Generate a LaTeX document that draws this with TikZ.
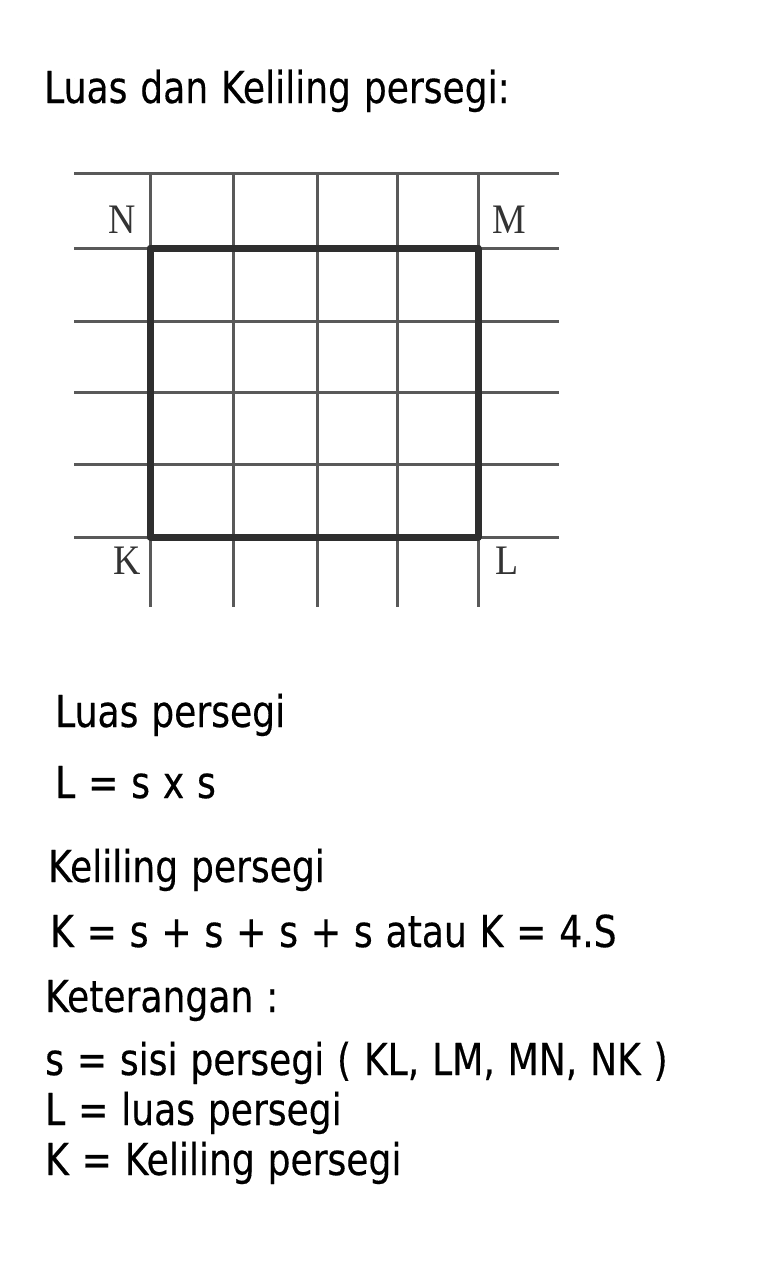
\documentclass[tikz,border=0pt]{standalone}
\usepackage{fontspec}
\setmainfont{DejaVu Sans}[FakeStretch=0.82, WordSpace=1.12, FakeBold=0.3]
\newfontfamily\titikfont{Liberation Serif}[FakeStretch=0.9]
\usetikzlibrary{positioning}

\begin{document}
\begin{tikzpicture}[
        x=1pt, y=-1pt,
        garis/.style={line width=3pt, black!65},
        sisi/.style={line width=7pt, black!82, line cap=round, line join=round},
        titik/.style={font=\titikfont\fontsize{42}{42}\selectfont, text=black!80, inner sep=0pt},
        teks/.style={font=\fontsize{44}{44}\selectfont, anchor=base west, inner sep=0pt}
    ]

    \useasboundingbox (0,0) rectangle (768,1280);
    \fill[white] (0,0) rectangle (768,1280);

    \node[teks] (judul) at (44,103) {Luas dan Keliling persegi:};

    % kotak-kotak
    \foreach \y in {173,248,321,392,464,537}
        \draw[garis] (74,\y) -- (559,\y);
    \foreach \x in {150,233,317,397,478}
        \draw[garis] (\x,173) -- (\x,607);

    \coordinate (K) at (150,537);
    \coordinate (L) at (478,537);
    \coordinate (M) at (478,248);
    \coordinate (N) at (150,248);
    \draw[sisi] (K) -- (L) -- (M) -- (N) -- cycle;

    \node[titik] (tN) at ([shift={(-28,-28)}]N) {N};
    \node[titik] (tM) at ([shift={(31,-28)}]M) {M};
    \node[titik] (tK) at ([shift={(-23,24)}]K) {K};
    \node[titik] (tL) at ([shift={(29,24)}]L) {L};

    \node[teks] (luas) at (55,727) {Luas persegi};
    \node[teks] (rumusL) at (55,798) {L = s x s};
    \node[teks] (kel) at (48,882) {Keliling persegi};
    \node[teks] (rumusK) at (50,947) {K = s + s + s + s atau K = 4.S};
    \node[teks] (ket) at (45,1012) {Keterangan :};
    \node[teks] (ket1) at (45,1075) {s = sisi persegi ( KL, LM, MN, NK )};
    \node[teks] (ket2) at (45,1125) {L = luas persegi};
    \node[teks] (ket3) at (45,1175) {K = Keliling persegi};

\end{tikzpicture}
\end{document}
